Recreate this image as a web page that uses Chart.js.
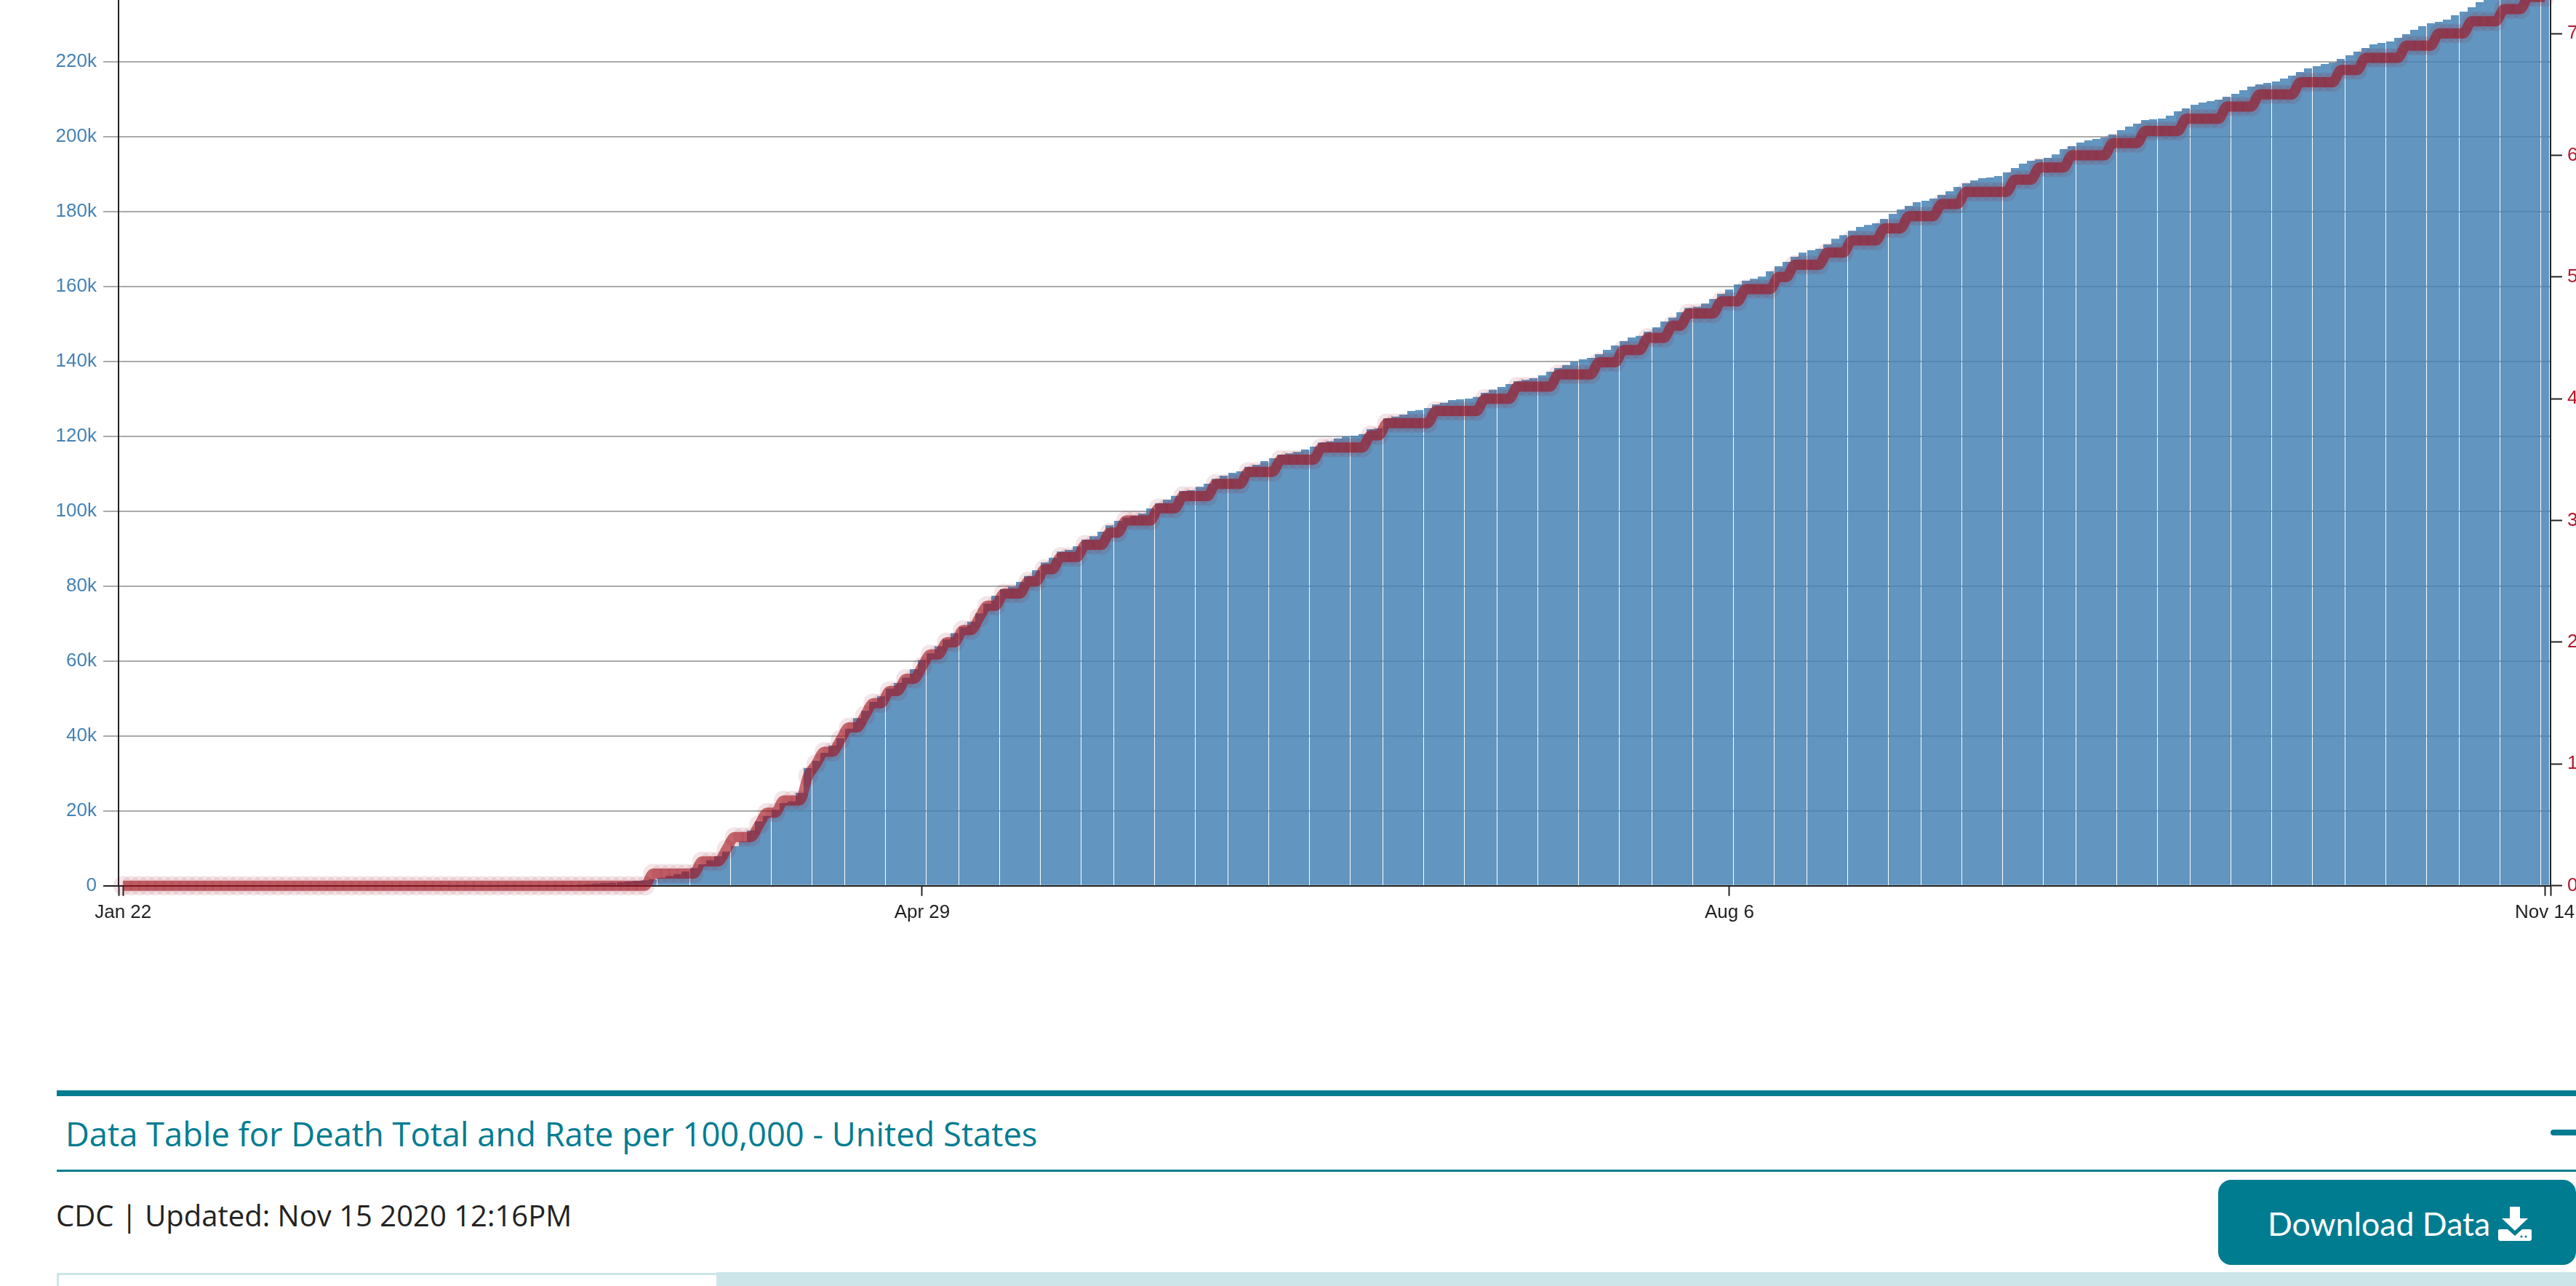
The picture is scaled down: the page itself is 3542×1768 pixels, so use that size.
<!DOCTYPE html>
<html>
<head>
<meta charset="utf-8">
<title>Death Total and Rate per 100,000 - United States</title>
<script src="https://cdn.jsdelivr.net/npm/chart.js"></script>
<style>
html, body { margin: 0; width: 3542px; height: 1768px; overflow: hidden; background: #fff; }
#chartBox { position: absolute; left: 0; top: -122px; width: 3542px; height: 1422px; }
.bar1 { position: absolute; left: 78px; right: 0; top: 1499px; height: 8px; background: #007c91; }
.bar2 { position: absolute; left: 78px; right: 0; top: 1608px; height: 3px; background: #007c91; }
.title { position: absolute; left: 90px; top: 1528px; font: 45.3px "Open Sans"; color: #007c91; white-space: nowrap; }
.minus { position: absolute; left: 3507px; top: 1553px; width: 60px; height: 8px; border-radius: 4px; background: #007c91; }
.updated { position: absolute; left: 77px; top: 1643px; font: 40px "Open Sans"; color: #222; white-space: nowrap; }
.btn { position: absolute; left: 3050px; top: 1622px; width: 492px; height: 117px; border-radius: 18px; background: #007c91; }
.btn span { position: absolute; left: 68px; top: 33px; font: 44.6px Lato; color: #fff; white-space: nowrap; }
.btn svg { position: absolute; left: 385px; top: 37px; }
.tab { position: absolute; left: 78px; top: 1750px; width: 907px; height: 18px; box-sizing: border-box; border-top: 3px solid #cce5e8; border-left: 3px solid #cce5e8; }
.tabs { position: absolute; left: 985px; right: 0; top: 1749px; height: 19px; background: #cce5e8; }
</style>
</head>
<body>
<div id="chartBox"><canvas id="deathChart" width="3542" height="1422"></canvas></div>
<div class="bar1"></div>
<div class="title">Data Table for Death Total and Rate per 100,000 - United States</div>
<div class="minus"></div>
<div class="bar2"></div>
<div class="updated">CDC | Updated: Nov 15 2020 12:16PM</div>
<div class="btn"><span>Download Data</span>
  <svg width="46" height="47" viewBox="0 0 46 47"><path fill="#fff" d="M16 0h14v16h11L23 33 5 16h11zM0 32l2-1h11l10 9 10-9h11l2 1v13l-2 2H2l-2-2z"/><circle cx="32" cy="41" r="1.5" fill="#007c91"/><circle cx="38" cy="41" r="1.5" fill="#007c91"/></svg>
</div>
<div class="tab"></div>
<div class="tabs"></div>

<script>
var tickDays = [0, 98, 197, 297];
var tickLabels = ['Jan 22', 'Apr 29', 'Aug 6', 'Nov 14'];

// one value per day, Jan 22 to Nov 14
var deathTotals = [
  0, 0, 0, 0, 0, 0, 0, 0, 0, 0,
  0, 0, 0, 0, 0, 0, 0, 0, 0, 0,
  0, 0, 0, 0, 0, 0, 0, 0, 0, 0,
  0, 0, 0, 0, 0, 0, 0, 0, 0, 0,
  2, 3, 6, 7, 9, 11, 12, 17, 21, 26,
  31, 49, 60, 85, 112, 190, 280, 400, 520, 660,
  790, 920, 1110, 1300, 1430, 1750, 2136, 2600, 3110, 3760,
  4740, 5700, 6800, 7840, 9130, 10560, 11850, 14760, 17160, 18640,
  20270, 22080, 22520, 24800, 31400, 33340, 35470, 37420, 39360, 41940,
  44740, 46680, 49070, 50560, 52620, 54110, 55530, 57800, 60270, 62020,
  63900, 65700, 67400, 69000, 70500, 72700, 75280, 77420, 79160, 79810,
  81110, 82720, 84210, 86290, 87570, 89200, 89650, 90620, 92430, 93280,
  94500, 96190, 97410, 98250, 98710, 99360, 100720, 102130, 103040, 104080,
  105370, 105570, 106480, 107320, 108620, 109450, 110230, 110620, 111840, 112370,
  113340, 114110, 115080, 115420, 115800, 116440, 117220, 118330, 118640, 119420,
  119940, 120130, 120580, 121880, 122080, 124790, 125240, 125770, 126730, 126990,
  127510, 128480, 128930, 129650, 129840, 130040, 130480, 131590, 132420, 133140,
  133920, 134700, 135020, 135470, 136250, 137220, 138190, 139030, 139940, 140520,
  140910, 141880, 143040, 144210, 145370, 146340, 146790, 147900, 149060, 150620,
  151650, 153080, 154250, 154560, 155410, 156640, 157990, 159160, 160520, 161490,
  162020, 162600, 164020, 165380, 166540, 167900, 169010, 169640, 170030, 171200,
  172690, 173670, 174830, 175860, 176380, 176830, 178000, 179350, 180520, 181490,
  182460, 182850, 183430, 184400, 185370, 186540, 187510, 188290, 188870, 189060,
  189450, 190420, 191590, 192750, 193530, 193920, 194310, 195220, 196640, 197410,
  198380, 198970, 199360, 199740, 200520, 201680, 202650, 203430, 204400, 204600,
  204790, 205570, 206730, 207510, 208480, 209060, 209450, 209840, 210620, 211390,
  212360, 213330, 213920, 214300, 214690, 215470, 216240, 217220, 218190, 218770,
  219350, 219740, 220710, 221680, 222650, 223630, 224600, 224980, 225370, 226340,
  227310, 228480, 229450, 230220, 230620, 231200, 232360, 233330, 234500, 235860,
  236900, 238100, 239500, 240800, 241700, 242600, 243700, 244800
];

var deathRates = [
  0, 0, 0, 0, 0, 0, 0, 0, 0, 0,
  0, 0, 0, 0, 0, 0, 0, 0, 0, 0,
  0, 0, 0, 0, 0, 0, 0, 0, 0, 0,
  0, 0, 0, 0, 0, 0, 0, 0, 0, 0,
  0, 0, 0, 0, 0, 0, 0, 0, 0, 0,
  0, 0, 0, 0, 0, 0, 0, 0, 0, 0,
  0, 0, 0, 0, 0, 1, 1, 1, 1, 1,
  1, 2, 2, 2, 3, 4, 4, 4, 5, 6,
  6, 7, 7, 7, 9, 10, 11, 11, 12, 13,
  13, 14, 15, 15, 16, 16, 17, 17, 18, 19,
  19, 20, 20, 21, 21, 22, 23, 23, 24, 24,
  24, 25, 25, 26, 26, 27, 27, 27, 28, 28,
  28, 29, 29, 30, 30, 30, 30, 31, 31, 31,
  32, 32, 32, 32, 33, 33, 33, 33, 34, 34,
  34, 34, 35, 35, 35, 35, 35, 36, 36, 36,
  36, 36, 36, 37, 37, 38, 38, 38, 38, 38,
  38, 39, 39, 39, 39, 39, 39, 40, 40, 40,
  40, 41, 41, 41, 41, 41, 42, 42, 42, 42,
  42, 43, 43, 43, 44, 44, 44, 45, 45, 45,
  46, 46, 47, 47, 47, 47, 48, 48, 48, 49,
  49, 49, 49, 50, 50, 51, 51, 51, 51, 52,
  52, 52, 53, 53, 53, 53, 54, 54, 54, 55,
  55, 55, 55, 56, 56, 56, 57, 57, 57, 57,
  57, 57, 58, 58, 58, 59, 59, 59, 59, 60,
  60, 60, 60, 60, 61, 61, 61, 61, 62, 62,
  62, 62, 62, 63, 63, 63, 63, 63, 64, 64,
  64, 64, 65, 65, 65, 65, 65, 66, 66, 66,
  66, 66, 67, 67, 67, 68, 68, 68, 68, 68,
  69, 69, 69, 69, 70, 70, 70, 70, 71, 71,
  71, 71, 72, 72, 72, 73, 73, 73
];

var steelBlue = '#4682b4';
var rateRed = '#b2182b';
var inkBlack = '#222';
var gridGrey = '#aaa';

Chart.defaults.font.family = '"Liberation Sans"';
Chart.defaults.font.size = 26;

function noPadding(s) {
  s.paddingTop = s.paddingBottom = s.paddingLeft = s.paddingRight = 0;
}

// bars sit on whole pixels with a fixed width, which leaves the thin seams every 4-5 days
var snapBars = {
  id: 'snapBars',
  beforeDatasetDraw: function (chart, args) {
    if (args.index !== 0) return;
    args.meta.data.forEach(function (bar) {
      bar.x = Math.round(bar.x - 5.5) + 5.5;
    });
  }
};

var ctx = document.getElementById('deathChart').getContext('2d');
var myChart = new Chart(ctx, {
  type: 'bar',
  data: {
    datasets: [{
      label: 'Total Deaths',
      order: 2,
      yAxisID: 'yDeaths',
      data: deathTotals.map(function (v, i) { return { x: i, y: v }; }),
      backgroundColor: 'rgba(70,130,180,0.85)',
      borderWidth: 0,
      inflateAmount: 0,
      barThickness: 11
    }, {
      type: 'line',
      label: 'Death Rate per 100,000',
      order: 1,
      yAxisID: 'yRate',
      clip: false,
      data: deathRates.map(function (v, i) { return { x: i, y: v }; }),
      borderColor: 'rgba(165,15,25,0.6)',
      borderWidth: 14,
      cubicInterpolationMode: 'monotone',
      pointRadius: 13.5,
      pointBorderWidth: 0,
      pointBackgroundColor: 'rgba(150,20,40,0.11)'
    }]
  },
  options: {
    responsive: false,
    animation: false,
    events: [],
    layout: { autoPadding: false, padding: { top: 0.7 } },
    plugins: { legend: { display: false }, tooltip: { enabled: false } },
    scales: {
      x: {
        type: 'linear',
        offset: false,
        min: -0.55298,
        max: 297.7027,
        afterFit: function (s) { s.height = 82.3; noPadding(s); },
        afterBuildTicks: function (s) {
          var t = tickDays.map(function (d) { return { value: d }; });
          t.push({ value: s.min }, { value: s.max });
          s.ticks = t.sort(function (a, b) { return a.value - b.value; });
        },
        border: { color: inkBlack, width: 2 },
        grid: { offset: false, drawOnChartArea: false, tickLength: 14, tickColor: inkBlack, tickWidth: 2 },
        ticks: {
          color: inkBlack,
          padding: 8,
          autoSkip: false,
          maxRotation: 0,
          callback: function (v) {
            var k = tickDays.indexOf(v);
            return k < 0 ? '' : tickLabels[k];
          }
        }
      },
      yDeaths: {
        position: 'left',
        min: 0,
        max: 260000,
        afterFit: function (s) { s.width = 163; noPadding(s); },
        border: { color: inkBlack, width: 2 },
        grid: {
          color: gridGrey,
          lineWidth: 2,
          tickLength: 21,
          tickColor: function (c) { return c.tick && c.tick.value === 0 ? inkBlack : gridGrey; },
          tickWidth: 2
        },
        ticks: {
          color: steelBlue,
          padding: 9,
          stepSize: 20000,
          callback: function (v) { return v === 0 ? '0' : (v / 1000) + 'k'; }
        }
      },
      yRate: {
        position: 'right',
        min: 0,
        max: 80,
        afterFit: function (s) { s.width = 35; noPadding(s); },
        border: { color: inkBlack, width: 2 },
        grid: { drawOnChartArea: false, tickLength: 16, tickColor: inkBlack, tickWidth: 2 },
        ticks: {
          color: rateRed,
          padding: 7,
          stepSize: 10
        }
      }
    }
  },
  plugins: [snapBars]
});
</script>
</body>
</html>
